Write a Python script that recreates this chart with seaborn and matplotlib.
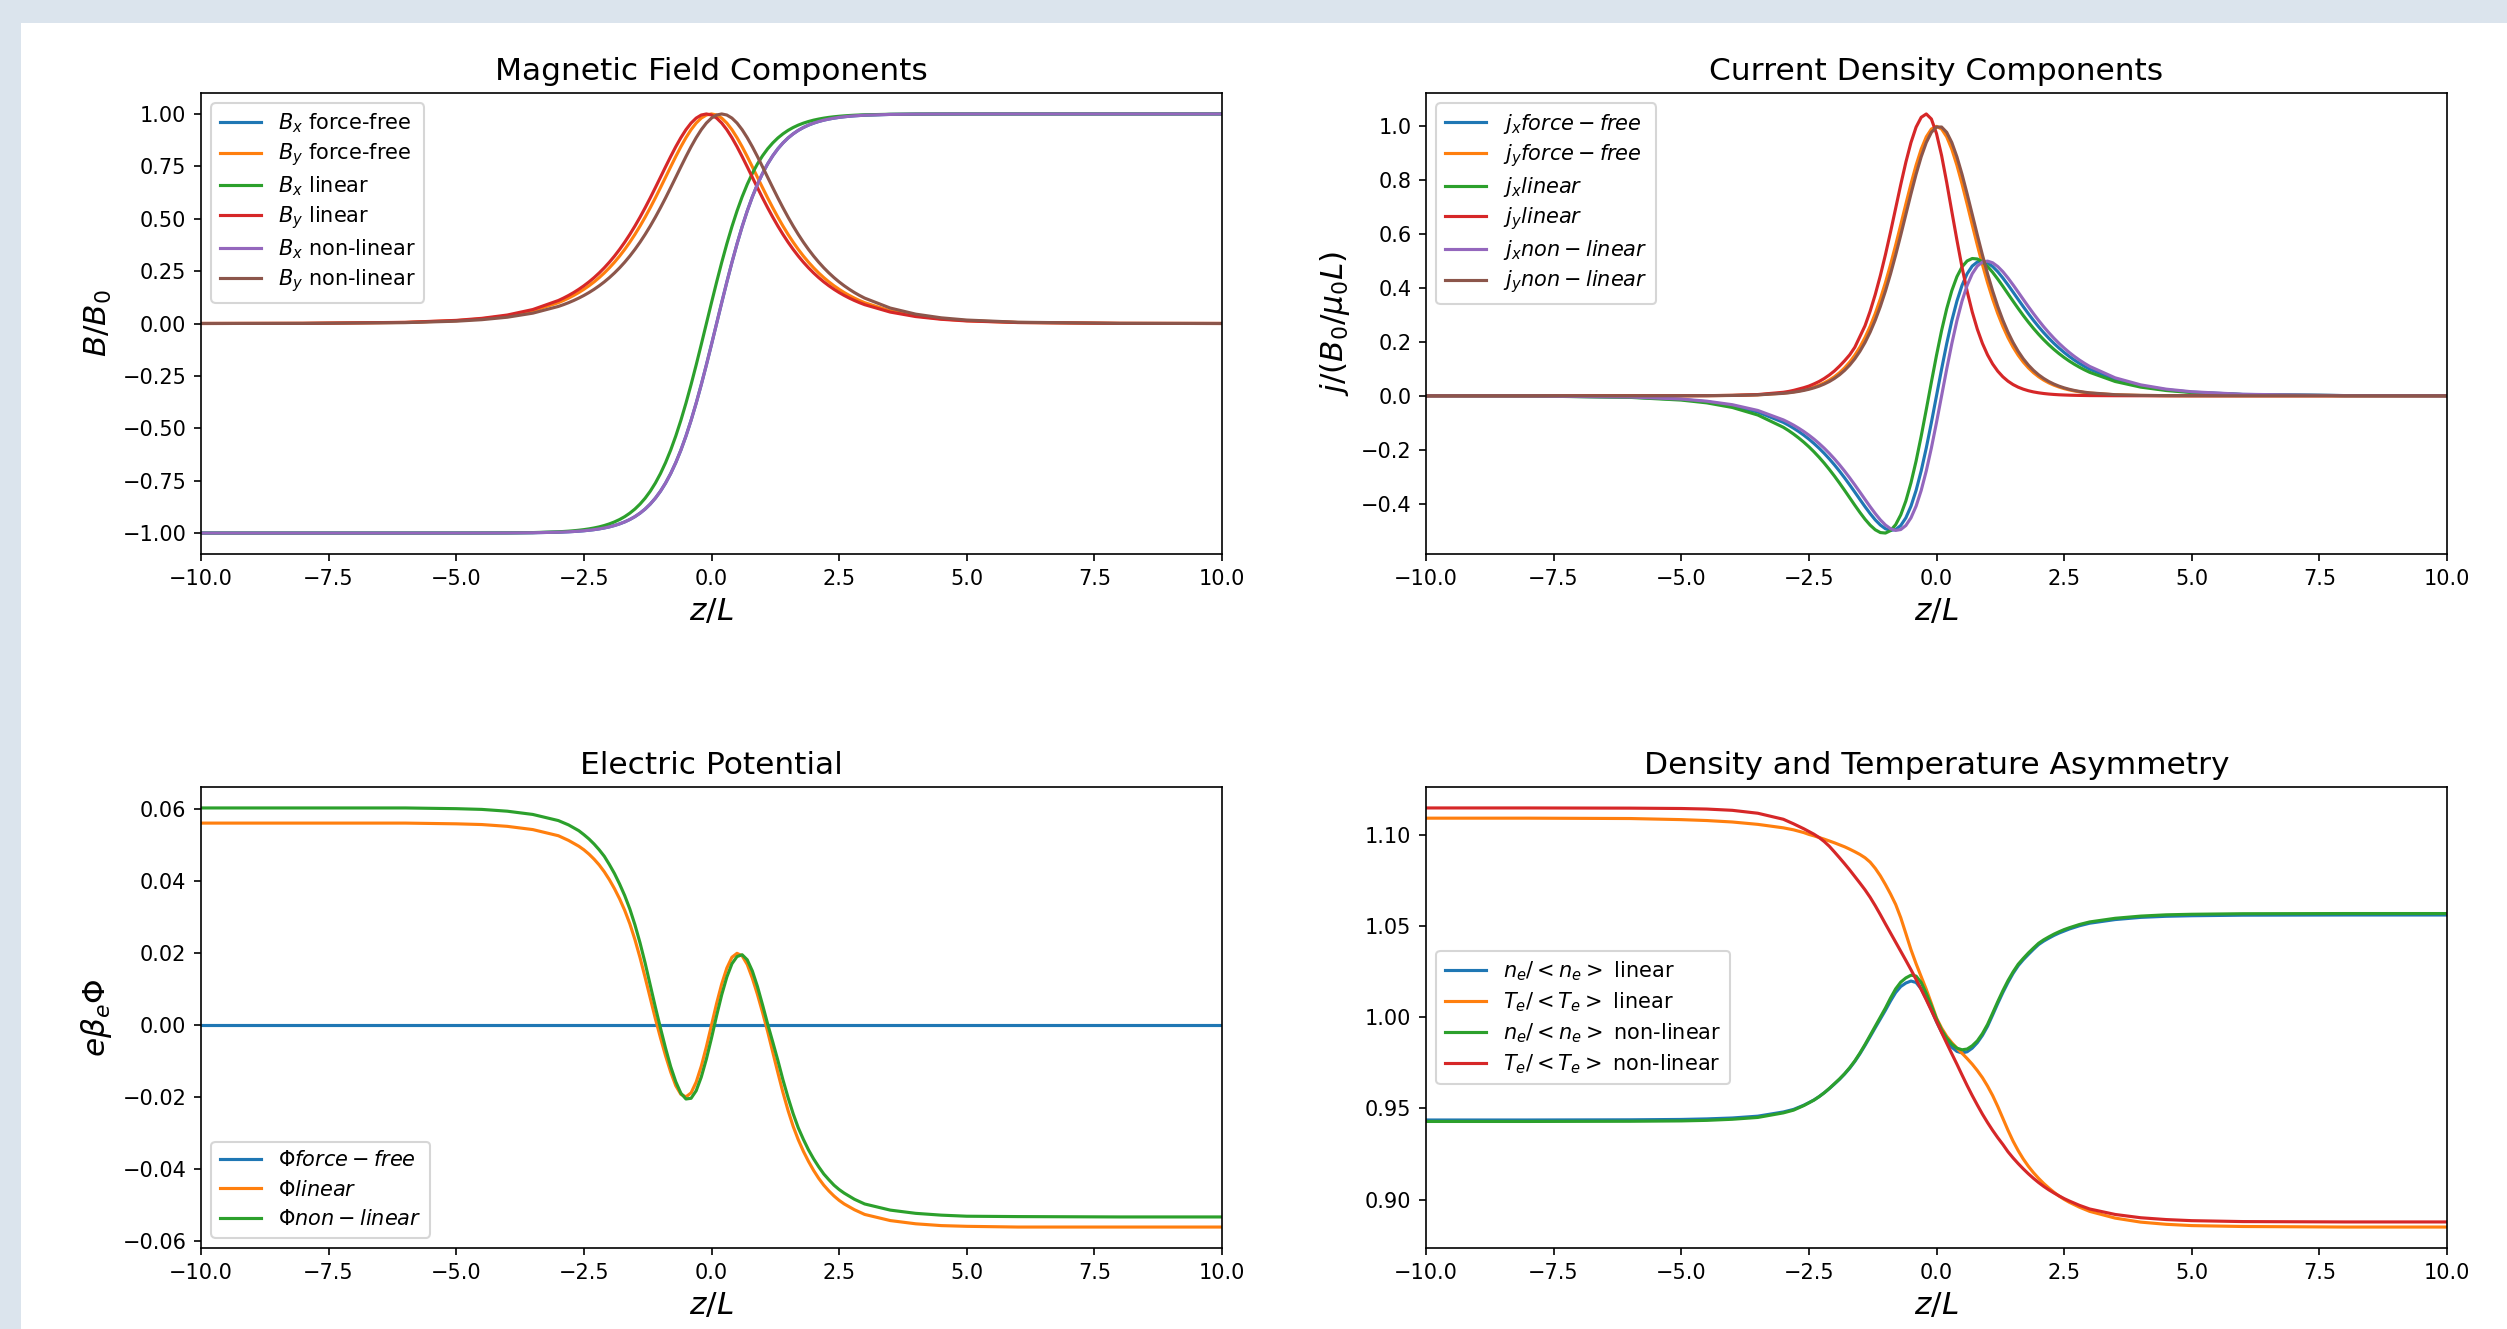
import matplotlib
matplotlib.use("Agg")
import matplotlib.pyplot as plt
from matplotlib.patches import Rectangle
import pandas as pd
import seaborn as sns

# ---------------- data ----------------
# top panels: z grid (fine in the centre)
z_bj = ([-10, -8, -6, -5, -4.5, -4, -3.5] +
        [-3.0, -2.9, -2.8, -2.7, -2.6, -2.5, -2.4, -2.3, -2.2, -2.1, -2.0, -1.9, -1.8, -1.7,
         -1.6, -1.5, -1.4, -1.3, -1.2, -1.1, -1.0, -0.9, -0.8, -0.7, -0.6, -0.5, -0.4, -0.3,
         -0.2, -0.1, 0.0, 0.1, 0.2, 0.3, 0.4, 0.5, 0.6, 0.7, 0.8, 0.9, 1.0, 1.1, 1.2, 1.3,
         1.4, 1.5, 1.6, 1.7, 1.8, 1.9, 2.0, 2.1, 2.2, 2.3, 2.4, 2.5, 2.6, 2.7, 2.8, 2.9, 3.0] +
        [3.5, 4, 4.5, 5, 6, 8, 10])

bx_ff = ([-1, -1, -1, -0.9999, -0.9998, -0.9995, -0.9985] +
         [-.9959, -.9951, -.9940, -.9926, -.9910, -.9890, -.9866, -.9837, -.9801, -.9757,
          -.9705, -.9640, -.9562, -.9468, -.9354, -.9217, -.9051, -.8854, -.8617, -.8337,
          -.8005, -.7616, -.7163, -.6640, -.6044, -.5370, -.4621, -.3799, -.2913, -.1974,
          -.0997, 0, .0997, .1974, .2913, .3799, .4621, .5370, .6044, .6640, .7163, .7616,
          .8005, .8337, .8617, .8854, .9051, .9217, .9354, .9468, .9562, .9640, .9705, .9757,
          .9801, .9837, .9866, .9890, .9910, .9926, .9940] +
         [0.9978, 0.9992, 0.9997, 0.9999, 1, 1, 1])
by_ff = ([0.0001, 0.0007, 0.0050, 0.0135, 0.0222, 0.0366, 0.0604] +
         [.0993, .1097, .1212, .1338, .1477, .1631, .1800, .1985, .2189, .2413, .2658, .2926,
          .3218, .3536, .3880, .4251, .4649, .5074, .5523, .5993, .6481, .6978, .7477, .7967,
          .8436, .8868, .9250, .9566, .9803, .9950, 1.0, .9950, .9803, .9566, .9250, .8868,
          .8436, .7967, .7477, .6978, .6481, .5993, .5523, .5074, .4649, .4251, .3880, .3536,
          .3218, .2926, .2658, .2413, .2189, .1985, .1800, .1631, .1477, .1338, .1212, .1097,
          .0993] +
         [0.0604, 0.0366, 0.0222, 0.0135, 0.0050, 0.0007, 0.0001])
bx_lin = ([-1, -1, -1, -0.9999, -0.9997, -0.9992, -0.9978] +
          [-.9940, -.9926, -.9910, -.9890, -.9866, -.9837, -.9801, -.9757, -.9705, -.9640,
           -.9562, -.9468, -.9354, -.9217, -.9051, -.8854, -.8617, -.8337, -.8005, -.7616,
           -.7163, -.6640, -.6044, -.5370, -.4621, -.3799, -.2913, -.1974, -.0997, 0, .0997,
           .1974, .2913, .3799, .4621, .5370, .6044, .6640, .7163, .7616, .8005, .8337, .8617,
           .8854, .9051, .9217, .9354, .9468, .9562, .9640, .9705, .9757, .9801, .9837, .9866,
           .9890, .9910, .9926, .9940, .9951, .9959] +
          [0.9985, 0.9995, 0.9998, 0.9999, 1, 1, 1])
by_lin = ([0.0001, 0.0007, 0.0055, 0.0149, 0.0246, 0.0405, 0.0667] +
          [.1097, .1212, .1338, .1477, .1631, .1800, .1985, .2189, .2413, .2658, .2926, .3218,
           .3536, .3880, .4251, .4649, .5074, .5523, .5993, .6481, .6978, .7477, .7967, .8436,
           .8868, .9250, .9566, .9803, .9950, 1.0, .9950, .9803, .9566, .9250, .8868, .8436,
           .7967, .7477, .6978, .6481, .5993, .5523, .5074, .4649, .4251, .3880, .3536, .3218,
           .2926, .2658, .2413, .2189, .1985, .1800, .1631, .1477, .1338, .1212, .1097, .0993,
           .0899] +
          [0.0546, 0.0331, 0.0201, 0.0122, 0.0045, 0.0006, 0.0001])
bx_nl = ([-1, -1, -1, -0.9999, -0.9998, -0.9995, -0.9985] +
         [-.9959, -.9951, -.9940, -.9926, -.9910, -.9890, -.9866, -.9837, -.9801, -.9757,
          -.9705, -.9640, -.9562, -.9468, -.9354, -.9217, -.9051, -.8854, -.8617, -.8337,
          -.8005, -.7616, -.7163, -.6640, -.6044, -.5370, -.4621, -.3799, -.2913, -.1974,
          -.0997, 0, .0997, .1974, .2913, .3799, .4621, .5370, .6044, .6640, .7163, .7616,
          .8005, .8337, .8617, .8854, .9051, .9217, .9354, .9468, .9562, .9640, .9705, .9757,
          .9801, .9837, .9866, .9890, .9910, .9926, .9940] +
         [0.9978, 0.9992, 0.9997, 0.9999, 1, 1, 1])
by_nl = ([0.0001, 0.0006, 0.0041, 0.0110, 0.0182, 0.0300, 0.0494] +
         [.0814, .0899, .0993, .1097, .1212, .1338, .1477, .1631, .1800, .1985, .2189, .2413,
          .2658, .2926, .3218, .3536, .3880, .4251, .4649, .5074, .5523, .5993, .6481, .6978,
          .7477, .7967, .8436, .8868, .9250, .9566, .9803, .9950, 1.0, .9950, .9803, .9566,
          .9250, .8868, .8436, .7967, .7477, .6978, .6481, .5993, .5523, .5074, .4649, .4251,
          .3880, .3536, .3218, .2926, .2658, .2413, .2189, .1985, .1800, .1631, .1477, .1338,
          .1212] +
         [0.0738, 0.0447, 0.0271, 0.0165, 0.0061, 0.0008, 0.0001])

jx_ff = ([-0.0001, -0.0007, -0.0050, -0.0135, -0.0222, -0.0366, -0.0603] +
         [-.0988, -.1090, -.1203, -.1326, -.1461, -.1609, -.1771, -.1946, -.2136, -.2342,
          -.2562, -.2798, -.3047, -.3308, -.3576, -.3848, -.4116, -.4372, -.4605, -.4797,
          -.4936, -.4998, -.4965, -.4815, -.4530, -.4098, -.3514, -.2787, -.1935, -.0992, 0,
          .0992, .1935, .2787, .3514, .4098, .4530, .4815, .4965, .4998, .4936, .4797, .4605,
          .4372, .4116, .3848, .3576, .3308, .3047, .2798, .2562, .2342, .2136, .1946, .1771,
          .1609, .1461, .1326, .1203, .1090, .0988] +
         [0.0603, 0.0366, 0.0222, 0.0135, 0.0050, 0.0007, 0.0001])
jy_ff = ([0, 0, 0, 0.0002, 0.0005, 0.0013, 0.0036] +
         [.0099, .0120, .0147, .0179, .0218, .0266, .0324, .0394, .0479, .0582, .0707, .0856,
          .1036, .1250, .1505, .1807, .2161, .2575, .3050, .3592, .4200, .4869, .5591, .6347,
          .7117, .7864, .8556, .9151, .9610, .9900, 1.0, .9900, .9610, .9151, .8556, .7864,
          .7117, .6347, .5591, .4869, .4200, .3592, .3050, .2575, .2161, .1807, .1505, .1250,
          .1036, .0856, .0707, .0582, .0479, .0394, .0324, .0266, .0218, .0179, .0147, .0120,
          .0099] +
         [0.0036, 0.0013, 0.0005, 0.0002, 0, 0, 0])
jx_lin = ([-0.0001, -0.0007, -0.0059, -0.0160, -0.0263, -0.0434, -0.0715] +
          [-.1170, -.1289, -.1421, -.1565, -.1722, -.1893, -.2080, -.2282, -.2499, -.2732,
           -.2979, -.3240, -.3510, -.3786, -.4063, -.4331, -.4582, -.4801, -.4973, -.5077,
           -.5095, -.5004, -.4784, -.4420, -.3902, -.3231, -.2423, -.1501, -.0509, .0509,
           .1501, .2423, .3231, .3902, .4420, .4784, .5004, .5095, .5077, .4973, .4801, .4582,
           .4331, .4063, .3786, .3510, .3240, .2979, .2732, .2499, .2282, .2080, .1893, .1722,
           .1565, .1421, .1289, .1170, .1061, .0962, .0871] +
          [0.0530, 0.0321, 0.0195, 0.0118, 0.0044, 0.0006, 0.0001])
jy_lin = ([0, 0, 0, 0.0002, 0.0005, 0.0015, 0.0045] +
          [.013, .016, .020, .025, .030, .036, .044, .053, .064, .077, .092, .110, .130, .152,
           .180, .220, .2600, .3138, .3757, .4460, .5241, .6082, .6961, .7840, .8671, .9399,
           .9970, 1.0334, 1.046, 1.0272, .9733, .8916, .7916, .6840, .5779, .4771, .3879,
           .3112, .2469, .1942, .1517, .1179, .0913, .0704, .0542, .0416, .0319, .0245, .0187,
           .0143, .0110, .0084, .0064, .0049, .0037, .0029, .0022, .0017, .0013, .0010,
           .0007] +
          [0.0002, 0, 0, 0, 0, 0, 0])
jx_nl = ([-0.0001, -0.0006, -0.0045, -0.0122, -0.0201, -0.0331, -0.0545] +
         [-.0895, -.0988, -.1090, -.1203, -.1326, -.1461, -.1609, -.1771, -.1946, -.2136,
          -.2342, -.2562, -.2798, -.3047, -.3308, -.3576, -.3848, -.4116, -.4372, -.4605,
          -.4797, -.4936, -.4998, -.4965, -.4815, -.4530, -.4098, -.3514, -.2787, -.1935,
          -.0992, 0, .0992, .1935, .2787, .3514, .4098, .4530, .4815, .4965, .4998, .4936,
          .4797, .4605, .4372, .4116, .3848, .3576, .3308, .3047, .2798, .2562, .2342, .2136,
          .1946, .1771, .1609, .1461, .1326, .1203, .1090] +
         [0.0666, 0.0405, 0.0246, 0.0149, 0.0055, 0.0007, 0.0001])
jy_nl = ([0, 0, 0, 0.0002, 0.0004, 0.0012, 0.0033] +
         [.0090, .0109, .0133, .0162, .0198, .0241, .0294, .0357, .0435, .0528, .0642, .0778,
          .0942, .1138, .1372, .1650, .1977, .2360, .2804, .3313, .3888, .4527, .5224, .5966,
          .6732, .7495, .8220, .8869, .9400, .9778, .9975, .9975, .9778, .9400, .8869, .8220,
          .7495, .6732, .5966, .5224, .4527, .3888, .3313, .2804, .2360, .1977, .1650, .1372,
          .1138, .0942, .0778, .0642, .0528, .0435, .0357, .0294, .0241, .0198, .0162, .0133,
          .0109] +
         [0.0040, 0.0014, 0.0005, 0.0002, 0, 0, 0])

# bottom panels: z grid
z_pn = ([-10, -8, -6, -5, -4.5, -4, -3.5, -3, -2.8, -2.6] +
        [-2.5, -2.4, -2.3, -2.2, -2.1, -2.0, -1.9, -1.8, -1.7, -1.6, -1.5, -1.4, -1.3, -1.2,
         -1.1, -1.0, -0.9, -0.8, -0.7, -0.6, -0.5, -0.4, -0.3, -0.2, -0.1, 0.0, 0.1, 0.2, 0.3,
         0.4, 0.5, 0.6, 0.7, 0.8, 0.9, 1.0, 1.1, 1.2, 1.3, 1.4, 1.5, 1.6, 1.7, 1.8, 1.9, 2.0,
         2.1, 2.2, 2.3, 2.4, 2.5] +
        [2.6, 2.8, 3, 3.5, 4, 4.5, 5, 6, 8, 10])

z_phi_ff = [-10, 10]
phi_ff = [0.0, 0.0]
phi_lin = ([0.0560, 0.0560, 0.0560, 0.0558, 0.0556, 0.0551, 0.0542, 0.0525, 0.0512, 0.0496] +
           [.0486, .0474, .0460, .0444, .0425, .0403, .0378, .0350, .0318, .0281, .0237, .0187,
            .0132, .0075, .0018, -.0035, -.0085, -.0130, -.0168, -.0192, -.0199, -.0188,
            -.0158, -.0114, -.0060, 0, .0060, .0114, .0158, .0188, .0199, .0192, .0168, .0130,
            .0085, .0035, -.0018, -.0075, -.0132, -.0187, -.0237, -.0281, -.0318, -.0350,
            -.0378, -.0403, -.0425, -.0444, -.0460, -.0474, -.0486] +
           [-0.0496, -0.0512, -0.0525, -0.0542, -0.0551, -0.0556, -0.0558, -0.0560, -0.0560,
            -0.0560])
phi_nl = ([0.0602, 0.0602, 0.0602, 0.0600, 0.0598, 0.0593, 0.0584, 0.0567, 0.0555, 0.0539] +
          [.0528, .0516, .0502, .0486, .0468, .0445, .0420, .0391, .0359, .0322, .0278, .0228,
           .0172, .0111, .0050, -.0008, -.0064, -.0115, -.0157, -.0189, -.0205, -.0203,
           -.0182, -.0144, -.0094, -.0036, .0026, .0084, .0133, .0170, .0190, .0195, .0181,
           .0150, .0107, .0056, .0003, -.0047, -.0098, -.0152, -.0201, -.0246, -.0285,
           -.0317, -.0346, -.0371, -.0393, -.0413, -.0429, -.0444, -.0456] +
          [-0.0466, -0.0483, -0.0496, -0.0513, -0.0522, -0.0527, -0.0530, -0.0531, -0.0532,
           -0.0532])

ne_lin = ([0.9436, 0.9436, 0.9437, 0.9439, 0.9442, 0.9447, 0.9457, 0.9480, 0.9494, 0.9517] +
          [.9531, .9546, .9564, .9585, .9608, .9633, .9659, .9688, .9720, .9757, .9799, .9845,
           .9893, .9942, .9990, 1.0038, 1.0089, 1.0135, 1.0168, 1.0187, 1.0198, 1.0190,
           1.0155, 1.0100, 1.0040, .9975, .9918, .9870, .9835, .9812, .9804, .9810, .9830,
           .9860, .9900, .9950, 1.0012, 1.0075, 1.0135, 1.0190, 1.0240, 1.0282, 1.0315,
           1.0344, 1.0372, 1.0398, 1.0417, 1.0433, 1.0448, 1.0461, 1.0472] +
          [1.0483, 1.0501, 1.0515, 1.0535, 1.0547, 1.0553, 1.0556, 1.0559, 1.0560, 1.0560])
te_lin = ([1.1091, 1.1091, 1.1089, 1.1083, 1.1078, 1.1070, 1.1057, 1.1038, 1.1027, 1.1012] +
          [1.1002, 1.0994, 1.0985, 1.0976, 1.0966, 1.0956, 1.0945, 1.0934, 1.0921, 1.0907,
           1.0892, 1.0874, 1.0850, 1.0816, 1.0775, 1.0727, 1.0675, 1.0618, 1.0545, 1.0458,
           1.0370, 1.0293, 1.0222, 1.0152, 1.0075, .9995, .9940, .9895, .9860, .9830, .9802,
           .9773, .9742, .9707, .9668, .9622, .9570, .9510, .9445, .9380, .9320, .9268,
           .9222, .9182, .9147, .9116, .9088, .9063, .9040, .9019, .9001] +
          [0.8985, 0.8958, 0.8935, 0.8898, 0.8876, 0.8864, 0.8857, 0.8852, 0.8849, 0.8849])
ne_nl = ([0.9428, 0.9428, 0.9429, 0.9431, 0.9434, 0.9440, 0.9450, 0.9475, 0.9490, 0.9515] +
         [.9530, .9545, .9564, .9585, .9609, .9635, .9661, .9690, .9723, .9760, .9803, .9850,
          .9900, .9950, 1.0000, 1.0050, 1.0105, 1.0155, 1.0192, 1.0215, 1.0230, 1.0225,
          1.0190, 1.0130, 1.0062, .9990, .9930, .9885, .9852, .9830, .9821, .9825, .9843,
          .9870, .9910, .9960, 1.0022, 1.0085, 1.0145, 1.0200, 1.0248, 1.0290, 1.0322,
          1.0352, 1.0379, 1.0405, 1.0424, 1.0440, 1.0455, 1.0468, 1.0480] +
         [1.0490, 1.0508, 1.0522, 1.0542, 1.0554, 1.0561, 1.0564, 1.0567, 1.0568, 1.0568])
te_nl = ([1.1147, 1.1147, 1.1146, 1.1144, 1.1141, 1.1134, 1.1118, 1.1085, 1.1060, 1.1033] +
         [1.1018, 1.1003, 1.0985, 1.0963, 1.0937, 1.0906, 1.0874, 1.0841, 1.0807, 1.0771,
          1.0735, 1.0698, 1.0657, 1.0611, 1.0562, 1.0511, 1.0461, 1.0411, 1.0361, 1.0311,
          1.0260, 1.0207, 1.0152, 1.0095, 1.0036, .9976, .9916, .9857, .9799, .9742, .9683,
          .9625, .9570, .9518, .9468, .9422, .9379, .9339, .9302, .9262, .9228, .9197, .9168,
          .9141, .9116, .9093, .9072, .9053, .9036, .9020, .9005] +
         [0.8992, 0.8968, 0.8948, 0.8918, 0.8900, 0.8890, 0.8884, 0.8879, 0.8877, 0.8877])

labels_b = [r"$B_x$ force-free", r"$B_y$ force-free", r"$B_x$ linear", r"$B_y$ linear",
            r"$B_x$ non-linear", r"$B_y$ non-linear"]
labels_j = [r"$j_x force-free$", r"$j_y force-free$", r"$j_x linear$", r"$j_y linear$",
            r"$j_x non-linear$", r"$j_y non-linear$"]
labels_phi = [r"$\Phi force-free$", r"$\Phi linear$", r"$\Phi non-linear$"]
labels_nt = [r"$n_e/<n_e>$ linear", r"$T_e/<T_e>$ linear",
             r"$n_e/<n_e>$ non-linear", r"$T_e/<T_e>$ non-linear"]

titles = ["Magnetic Field Components", "Current Density Components",
          "Electric Potential", "Density and Temperature Asymmetry"]
ylabels = [r"$B/B_0$", r"$j/(B_0/\mu_0 L)$", r"$e\beta_e\Phi$", ""]

COLORS = ["#1f77b4", "#ff7f0e", "#2ca02c", "#d62728", "#9467bd", "#8c564b"]


def long_df(zs, names, values):
    parts = [pd.DataFrame({"z": z, "v": v, "series": n}) for z, n, v in zip(zs, names, values)]
    return pd.concat(parts, ignore_index=True)


W, H, DPI = 2507, 1329, 150
fig = plt.figure(figsize=(W / DPI, H / DPI), dpi=DPI)
fig.patch.set_facecolor("#dbe4ed")
fig.add_artist(Rectangle((21 / W, 0), 1, 1 - 23 / H, transform=fig.transFigure,
                         facecolor="white", edgecolor="none", zorder=-10))

axw = 1021 / W
axh = 461 / H
left1, left2 = 201 / W, 1426 / W
bot1, bot2 = 1 - 554 / H, 1 - 1248 / H

panels = [
    ([left1, bot1, axw, axh], long_df([z_bj] * 6, labels_b,
                                      [bx_ff, by_ff, bx_lin, by_lin, bx_nl, by_nl]),
     labels_b, "upper left", 0.30),
    ([left2, bot1, axw, axh], long_df([z_bj] * 6, labels_j,
                                      [jx_ff, jy_ff, jx_lin, jy_lin, jx_nl, jy_nl]),
     labels_j, "upper left", 0.30),
    ([left1, bot2, axw, axh], long_df([z_phi_ff, z_pn, z_pn], labels_phi,
                                      [phi_ff, phi_lin, phi_nl]),
     labels_phi, "lower left", 0.46),
    ([left2, bot2, axw, axh], long_df([z_pn] * 4, labels_nt,
                                      [ne_lin, te_lin, ne_nl, te_nl]),
     labels_nt, "center left", 0.35),
]

for i, (rect, df, names, loc, lsp) in enumerate(panels):
    ax = fig.add_axes(rect)
    sns.lineplot(data=df, x="z", y="v", hue="series", hue_order=names,
                 palette=COLORS[:len(names)], estimator=None, sort=False,
                 linewidth=1.5, ax=ax)
    ax.set_xlim(-10, 10)
    ax.set_title(titles[i], fontsize=15)
    ax.set_xlabel(r"$z/L$", fontsize=15)
    ax.set_ylabel(ylabels[i], fontsize=15)
    ax.tick_params(labelsize=10)
    sns.move_legend(ax, loc, title=None, fontsize=10, frameon=True, labelspacing=lsp)

fig.savefig("out.png", dpi=DPI, facecolor=fig.get_facecolor())
